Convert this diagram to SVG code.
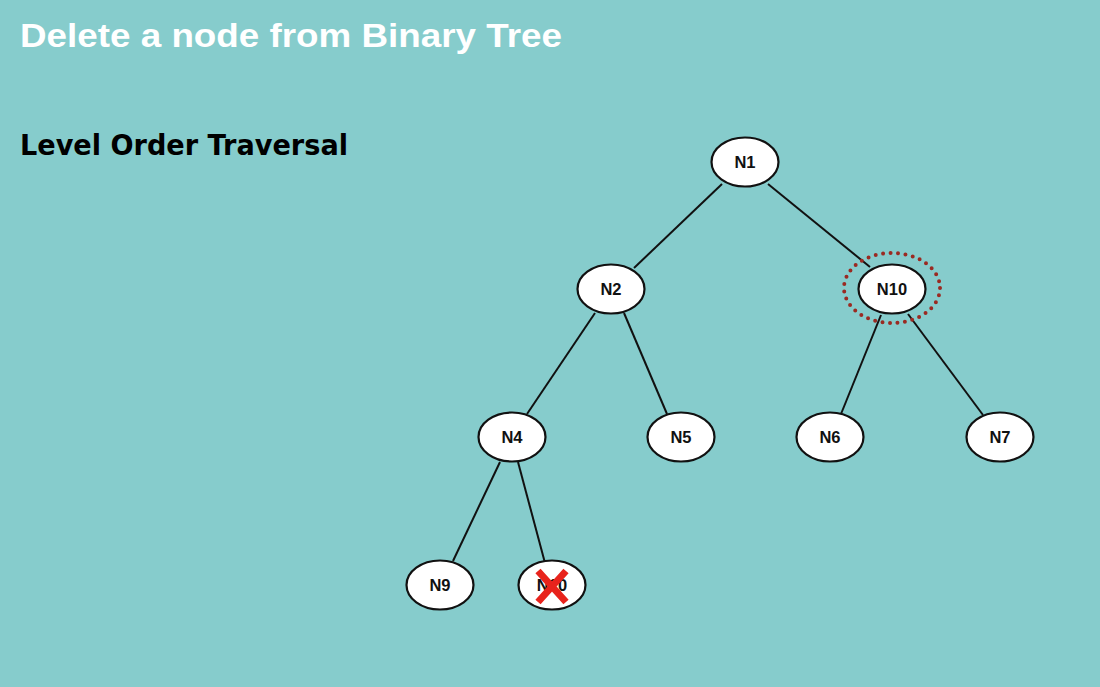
<svg xmlns="http://www.w3.org/2000/svg" width="1100" height="687" viewBox="0 0 1100 687">
<style>
.node ellipse{fill:#fff;stroke:#111;stroke-width:2.2}
.node text{font-family:"Liberation Sans",Arial,sans-serif;font-weight:bold;font-size:16.5px;fill:#111;text-anchor:middle}
.edges line{stroke:#111;stroke-width:2}
</style>
<rect width="1100" height="687" fill="#86cccc"/>
<text x="20" y="47" font-family="Liberation Sans,Arial,sans-serif" font-weight="bold" font-size="34" fill="#fff" textLength="542" lengthAdjust="spacingAndGlyphs">Delete a node from Binary Tree</text>
<text x="20" y="155" font-family="DejaVu Sans,sans-serif" font-weight="bold" font-size="29" fill="#000" textLength="328" lengthAdjust="spacingAndGlyphs">Level Order Traversal</text>
<g class="edges">
<line x1="722" y1="184" x2="634" y2="268"/>
<line x1="768" y1="184" x2="870" y2="267"/>
<line x1="595" y1="313" x2="527" y2="414"/>
<line x1="624" y1="313" x2="667" y2="414"/>
<line x1="881" y1="315" x2="841" y2="414"/>
<line x1="908" y1="314" x2="983" y2="415"/>
<line x1="500" y1="462" x2="453" y2="561"/>
<line x1="518" y1="462" x2="545" y2="563"/>
</g>
<ellipse cx="892" cy="288" rx="48" ry="35" fill="none" stroke="#9a2a22" stroke-width="4" stroke-dasharray="0 7.5" stroke-linecap="round"/>
<g id="N1" class="node"><ellipse cx="745" cy="162" rx="33.5" ry="24.5"/><text x="745" y="168">N1</text></g>
<g id="N2" class="node"><ellipse cx="611" cy="289" rx="33.5" ry="24.5"/><text x="611" y="295">N2</text></g>
<g id="N10" class="node"><ellipse cx="892" cy="289" rx="33.5" ry="24.5"/><text x="892" y="295">N10</text></g>
<g id="N4" class="node"><ellipse cx="512" cy="437" rx="33.5" ry="24.5"/><text x="512" y="443">N4</text></g>
<g id="N5" class="node"><ellipse cx="681" cy="437" rx="33.5" ry="24.5"/><text x="681" y="443">N5</text></g>
<g id="N6" class="node"><ellipse cx="830" cy="437" rx="33.5" ry="24.5"/><text x="830" y="443">N6</text></g>
<g id="N7" class="node"><ellipse cx="1000" cy="437" rx="33.5" ry="24.5"/><text x="1000" y="443">N7</text></g>
<g id="N9" class="node"><ellipse cx="440" cy="585" rx="33.5" ry="24.5"/><text x="440" y="591">N9</text></g>
<g id="N10b" class="node"><ellipse cx="552" cy="585" rx="33.5" ry="24.5"/><text x="552" y="591">N10</text>
<path d="M538 571 L566 602 M566 571 L538 602" stroke="#e8231c" stroke-width="7" stroke-linecap="butt"/></g>
</svg>
